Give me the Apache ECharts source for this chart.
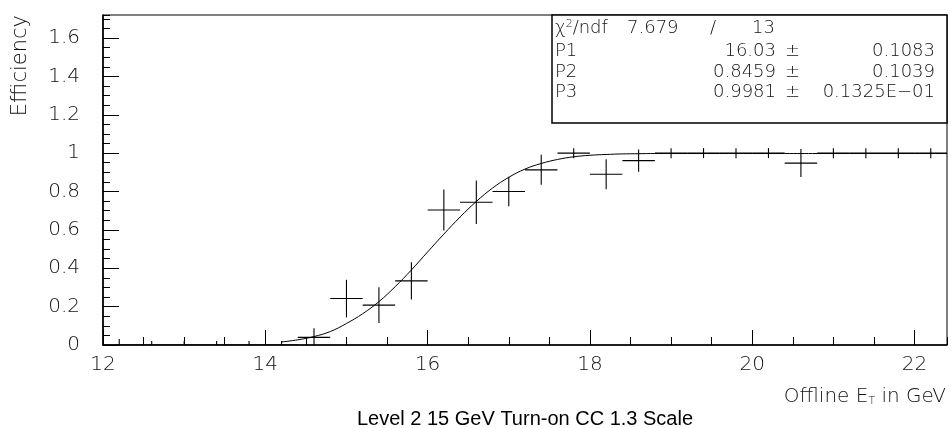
<!DOCTYPE html>
<html>
<head>
<meta charset="utf-8">
<script src="https://cdn.jsdelivr.net/npm/echarts@6/dist/echarts.min.js"></script>
<style>
html,body{margin:0;padding:0;background:#fff;}
#chart{width:951px;height:428px;}
</style>
</head>
<body>
<div id="chart"></div>
<script>
// ---- data ----
const binCenters = [12.2,12.6,13.0,13.4,13.8,14.2,14.6,15.0,15.4,15.8,16.2,16.6,17.0,17.4,17.8,18.2,18.6,19.0,19.4,19.8,20.2,20.6,21.0,21.4,21.8,22.2];
const efficiency = [0,0,0,0,0,0,0.040,0.242,0.208,0.334,0.704,0.744,0.800,0.913,1.0,0.890,0.961,1.0,1.0,1.0,1.0,0.948,1.0,1.0,1.0,1.0];
const effError   = [0.031,0.021,0.021,0.021,0.021,0.021,0.047,0.098,0.093,0.097,0.107,0.113,0.077,0.078,0.026,0.078,0.058,0.026,0.026,0.026,0.026,0.073,0.026,0.026,0.026,0.026];
const binHalfWidth = 0.2;

// fitted turn-on curve
const curveX = [14.2,14.4,14.6,14.8,15.0,15.2,15.4,15.6,15.8,16.0,16.2,16.4,16.6,16.8,17.0,17.2,17.4,17.6,17.8,18.0,18.2,18.4,18.6,18.8,19.2,19.6,20.0,20.4,20.8,21.2,21.6,22.0,22.4];
const curveY = [0.016,0.027,0.044,0.070,0.112,0.163,0.226,0.304,0.391,0.485,0.578,0.667,0.748,0.818,0.874,0.917,0.946,0.967,0.981,0.989,0.993,0.996,0.997,0.998,0.998,0.998,0.998,0.998,0.998,0.998,0.998,0.998,0.998];

// fit statistics box
const chi2Value = '7.679';
const ndfValue = '13';
const parLabels = ['P1','P2','P3'];
const parValues = ['16.03','0.8459','0.9981'];
const parErrors = ['0.1083','0.1039','0.1325E\u221201'];

const xMin = 12, xMax = 22.4, xMajor = 2, xMinor = 0.5;
const yMin = 0, yMax = 1.72, yMajor = 0.2, yMinor = 0.05;

const titleText = 'Level 2 15 GeV Turn-on CC 1.3 Scale';
const yTitle = 'Efficiency';

// ---- styling ----
const thinFont = "'DejaVu Sans ExtraLight','DejaVu Sans',sans-serif";
const thinW = 200;
const axisFontSize = 20;

const chart = echarts.init(document.getElementById('chart'), null, {renderer:'canvas'});

const gridL = 103, gridT = 15, gridW = 844, gridH = 330;

function mkX(interval, tickLen, showLabel, showLine){
  return {
    type:'value', min:xMin, max:xMax, interval:interval, position:'bottom', gridIndex:0,
    axisLine:{show:showLine, onZero:false, lineStyle:{color:'#000', width:1.6}},
    axisTick:{show:true, inside:true, length:tickLen, lineStyle:{color:'#000', width:1}},
    axisLabel:{show:showLabel, showMaxLabel:false, showMinLabel:true, margin:10, fontSize:axisFontSize,
      fontFamily:thinFont, fontWeight:thinW, color:'#111'},
    splitLine:{show:false}, minorTick:{show:false}
  };
}
function mkY(interval, tickLen, showLabel, showLine){
  return {
    type:'value', min:yMin, max:yMax, interval:interval, position:'left', gridIndex:0,
    axisLine:{show:showLine, onZero:false, lineStyle:{color:'#000', width:1.6}},
    axisTick:{show:true, inside:true, length:tickLen, lineStyle:{color:'#000', width:1}},
    axisLabel:{show:showLabel, showMaxLabel:false, margin:23, fontSize:axisFontSize,
      fontFamily:thinFont, fontWeight:thinW, color:'#111',
      formatter: v => (Math.round(v*10)/10).toString()},
    splitLine:{show:false}, minorTick:{show:false}
  };
}

const pointData = binCenters.map((x,i)=>[x, efficiency[i], effError[i]]);

// stats box layout
const boxL = 552, boxT = 15, boxR = 947, boxB = 123;
const rowY = [28, 51, 72, 92];
const statFont = 18;
const statStyle = (txt, x, y, align) => ({
  type:'text', z:100,
  style:{text:txt, x:x, y:y, align:align, verticalAlign:'middle',
    fontSize:statFont, fontFamily:thinFont, fontWeight:thinW, fill:'#111'}
});

const graphics = [
  {type:'rect', z:99, shape:{x:boxL, y:boxT, width:boxR-boxL, height:boxB-boxT},
   style:{fill:'#fff', stroke:'#000', lineWidth:1.5}},
  {type:'text', z:100, style:{
    text:'{a|\u03C7}{s|2}{a|/ndf}', x:555, y:rowY[0], verticalAlign:'middle', align:'left',
    rich:{a:{fontSize:statFont, fontFamily:thinFont, fontWeight:thinW, fill:'#111'},
          s:{fontSize:11, fontFamily:thinFont, fontWeight:thinW, fill:'#111', verticalAlign:'top', padding:[0,0,7,0]}}
  }},
  statStyle(chi2Value, 627, rowY[0], 'left'),
  statStyle('/', 710, rowY[0], 'left'),
  statStyle(ndfValue, 775, rowY[0], 'right')
];
parLabels.forEach((lab,i)=>{
  graphics.push(statStyle(lab, 555, rowY[i+1], 'left'));
  graphics.push(statStyle(parValues[i], 776, rowY[i+1], 'right'));
  graphics.push(statStyle('\u00B1', 785, rowY[i+1], 'left'));
  graphics.push(statStyle(parErrors[i], 935, rowY[i+1], 'right'));
});
// y title
graphics.push({type:'text', z:100, x:21, y:15, rotation:Math.PI/2,
  style:{text:yTitle, x:0, y:0, align:'right', verticalAlign:'middle',
    fontSize:21, fontFamily:thinFont, fontWeight:thinW, fill:'#111'}});
// x title with subscript
graphics.push({type:'text', z:100, style:{
  text:'{a|Offline E}{s|T}{a| in GeV}', x:946, y:397, align:'right', verticalAlign:'middle',
  rich:{a:{fontSize:20, fontFamily:thinFont, fontWeight:thinW, fill:'#111'},
        s:{fontSize:11, fontFamily:thinFont, fontWeight:thinW, fill:'#111', verticalAlign:'bottom', padding:[6,0,0,0]}}
}});
// main title
graphics.push({type:'text', z:100, style:{
  text:titleText, x:gridL+gridW/2, y:419, align:'center', verticalAlign:'middle',
  fontSize:20, fontFamily:"'Liberation Sans',Arial,sans-serif", fill:'#000'}});

const option = {
  backgroundColor:'#fff',
  animation:false,
  grid:{left:gridL, top:gridT, width:gridW, height:gridH, show:true, borderColor:'#000', borderWidth:1,
        containLabel:false, outerBoundsMode:'none'},
  xAxis:[ mkX(xMajor, 15, true, true), mkX(xMinor, 8, false, false) ],
  yAxis:[ mkY(yMajor, 16, true, true), mkY(yMinor, 7, false, false) ],
  series:[
    {
      type:'custom', xAxisIndex:0, yAxisIndex:0, clip:true, data:pointData,
      encode:{x:0, y:1},
      renderItem:(params, api)=>{
        const x = api.value(0), y = api.value(1), e = api.value(2);
        const pl = api.coord([x - binHalfWidth, y]);
        const pr = api.coord([x + binHalfWidth, y]);
        const pt = api.coord([x, y + e]);
        const pb = api.coord([x, y - e]);
        return {type:'group', children:[
          {type:'line', shape:{x1:pl[0], y1:pl[1], x2:pr[0], y2:pr[1]}, style:{stroke:'#000', lineWidth:1.1}},
          {type:'line', shape:{x1:pt[0], y1:pt[1], x2:pb[0], y2:pb[1]}, style:{stroke:'#000', lineWidth:1.1}}
        ]};
      }
    },
    {
      type:'line', xAxisIndex:0, yAxisIndex:0, data:curveX.map((x,i)=>[x, curveY[i]]),
      showSymbol:false, symbol:'none', smooth:0.4, clip:true,
      lineStyle:{color:'#000', width:1}
    }
  ],
  graphic:graphics
};
chart.setOption(option);
</script>
</body>
</html>
